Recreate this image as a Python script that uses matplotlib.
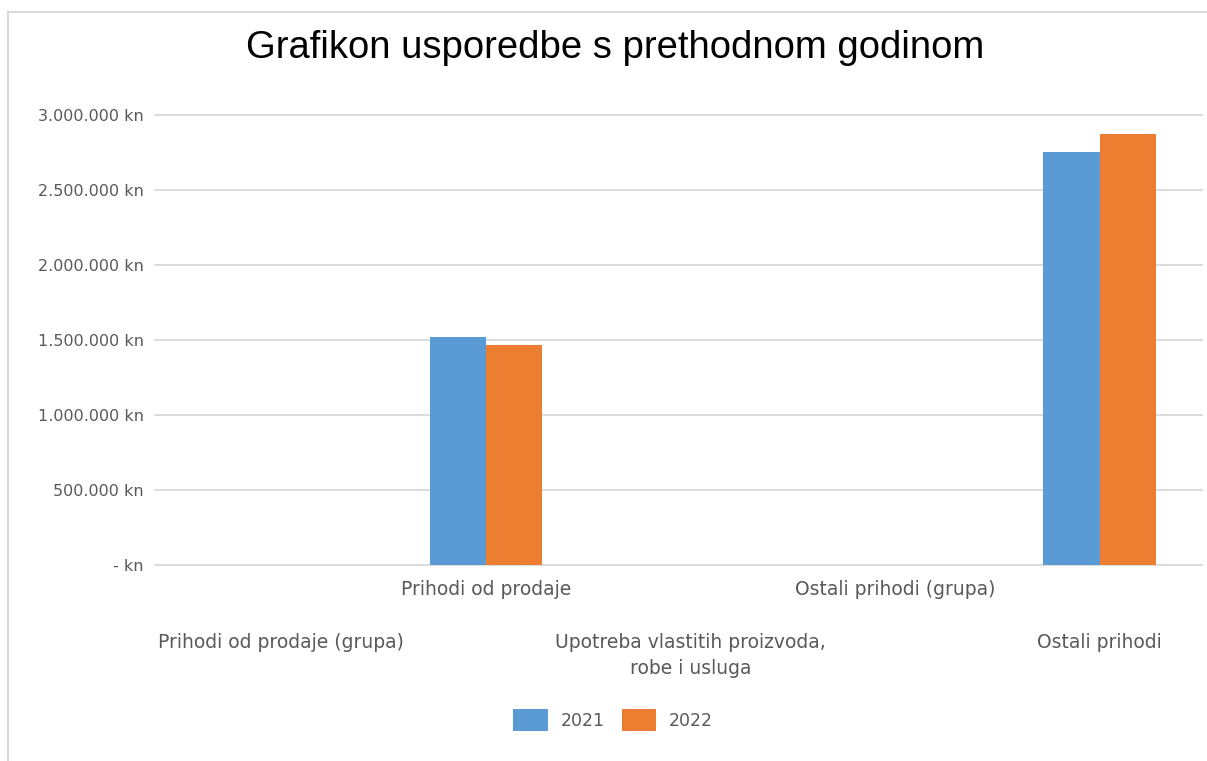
import numpy as np
import matplotlib
matplotlib.use("Agg")
import matplotlib.pyplot as plt
from matplotlib.lines import Line2D
from matplotlib.ticker import FuncFormatter

categories = ["Prihodi od prodaje (grupa)", "Prihodi od prodaje",
              "Upotreba vlastitih proizvoda,\nrobe i usluga",
              "Ostali prihodi (grupa)", "Ostali prihodi"]
series_names = ["2021", "2022"]
vals_2021 = [0, 1520000, 0, 0, 2750000]
vals_2022 = [0, 1470000, 0, 0, 2870000]
yticks = [0, 500000, 1000000, 1500000, 2000000, 2500000, 3000000]

BLUE = "#5B9BD5"
ORANGE = "#ED7D31"
GRID = "#D9D9D9"
TXT = "#595959"

plt.rcParams["font.family"] = ["DejaVu Sans"]

fig = plt.figure(figsize=(12.07, 7.61), dpi=100)
ax = fig.add_axes([155 / 1207, 1 - 565 / 761, (1202 - 155) / 1207, (565 - 115) / 761])

x = np.arange(len(categories))
w = 0.275
ax.bar(x - w / 2, vals_2021, w, color=BLUE, label=series_names[0], zorder=3)
ax.bar(x + w / 2, vals_2022, w, color=ORANGE, label=series_names[1], zorder=3)

# category slot is ~204 px; the gridlines start ~24 px left of the first slot
ax.set_xlim(-0.5 - 24 / 204.3, len(categories) - 0.5)
ax.set_ylim(0, 3000000)
ax.set_yticks(yticks)


def fmt(v, pos):
    if v == 0:
        return "- kn"
    return f"{int(v):,}".replace(",", ".") + " kn"


ax.yaxis.set_major_formatter(FuncFormatter(fmt))
ax.grid(axis="y", color=GRID, linewidth=1.3, zorder=0)
for gl in ax.get_ygridlines():
    gl.set_clip_on(False)
ax.set_axisbelow(True)
for s in ax.spines.values():
    s.set_visible(False)
ax.tick_params(axis="y", length=0, pad=8, labelsize=11.5, labelcolor=TXT)
ax.tick_params(axis="x", length=0, labelsize=13.5, labelcolor=TXT)

ax.set_xticks(x)
ax.set_xticklabels(categories, multialignment="center", linespacing=1.45)
for i, t in enumerate(ax.xaxis.get_major_ticks()):
    t.set_pad(11 if i % 2 == 1 else 49)

fig.text(615 / 1207, 1 - 48 / 761, "Grafikon usporedbe s prethodnom godinom",
         ha="center", va="center", fontsize=27.5, color="black",
         family="Liberation Sans")

fig.legend(loc="center", bbox_to_anchor=(613 / 1207, 1 - 720 / 761), ncol=2,
           frameon=False, fontsize=12.5, handlelength=2.0, handleheight=1.6,
           handletextpad=0.7, columnspacing=1.0, labelcolor=TXT)

# light frame (top and left edges)
fig.add_artist(Line2D([8 / 1207, 1], [1 - 12 / 761, 1 - 12 / 761], color="#D9D9D9", lw=1.5))
fig.add_artist(Line2D([8 / 1207, 8 / 1207], [0, 1 - 12 / 761], color="#D9D9D9", lw=1.5))

fig.savefig("out.png", dpi=100)
